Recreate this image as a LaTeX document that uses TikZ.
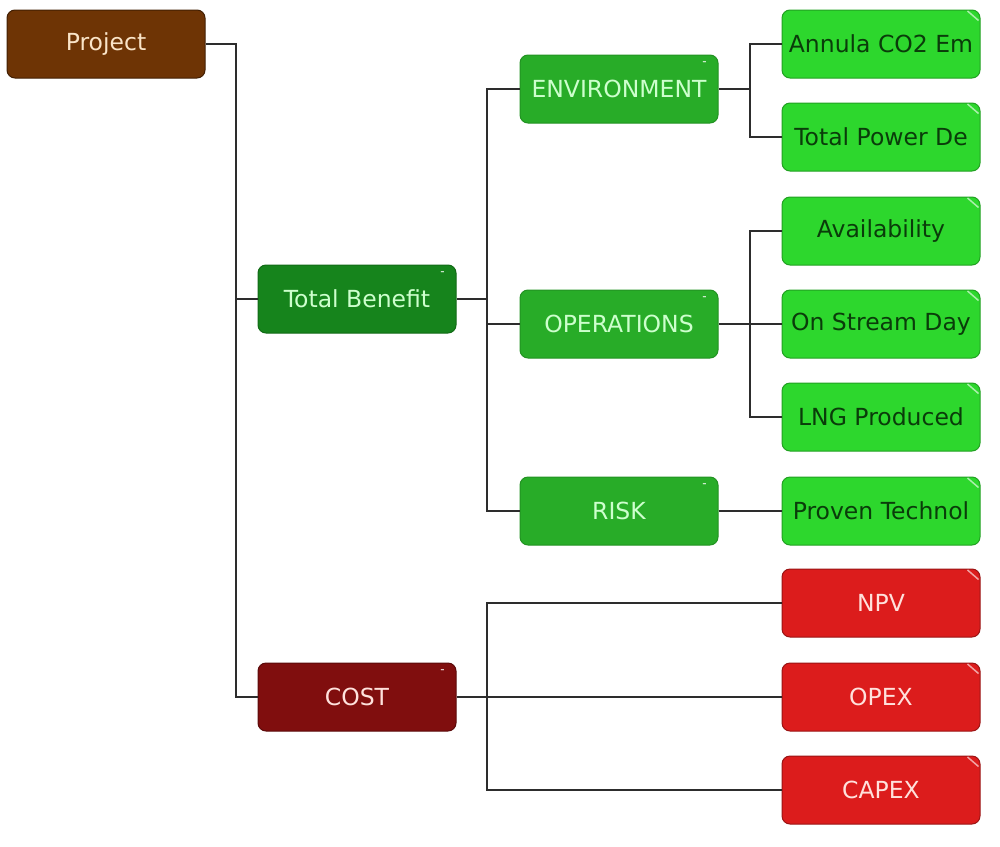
\documentclass[tikz,border=0pt]{standalone}
\usepackage{fontspec}
\setmainfont{DejaVu Sans}
\begin{document}
\begin{tikzpicture}[x=1pt,y=-1pt,
  box/.style={draw, line width=1pt, rounded corners=8pt, minimum width=198pt, minimum height=68pt, inner sep=0pt, font=\fontsize{23.5}{26}\selectfont},
  root/.style={box, fill=projbrown, draw=projbrown!60!black, text=projtext},
  tb/.style={box, fill=tbgreen, draw=tbgreen!80!black, text=lighttext},
  mid/.style={box, fill=midgreen, draw=midgreen!85!black, text=lighttext},
  leafg/.style={box, fill=leafgreen, draw=leafgreen!75!black, text=darktext},
  costbox/.style={box, fill=costred, draw=costred!70!black, text=costtext},
  leafr/.style={box, fill=leafred, draw=leafred!70!black, text=costtext},
  conn/.style={draw=linegray, line width=1.4pt},
  collapsemark/.style={font=\fontsize{12}{12}\selectfont, text=white, inner sep=0pt}
]
\definecolor{projbrown}{RGB}{110,52,5}
\definecolor{projtext}{RGB}{250,228,200}
\definecolor{tbgreen}{RGB}{22,132,28}
\definecolor{midgreen}{RGB}{40,172,40}
\definecolor{leafgreen}{RGB}{45,215,45}
\definecolor{lighttext}{RGB}{205,255,205}
\definecolor{darktext}{RGB}{10,60,10}
\definecolor{costred}{RGB}{128,14,14}
\definecolor{leafred}{RGB}{220,28,28}
\definecolor{costtext}{RGB}{255,225,220}
\definecolor{linegray}{RGB}{45,45,45}
\useasboundingbox (0,0) rectangle (1000,846);

\node[root] (project) at (106,44) {Project};
\node[tb] (tb) at (357,299) {Total Benefit};
\node[costbox] (cost) at (357,697) {COST};
\node[mid] (env) at (619,89) {ENVIRONMENT};
\node[mid] (ops) at (619,324) {OPERATIONS};
\node[mid] (risk) at (619,511) {RISK};
\node[leafg] (co2) at (881,44) {Annula CO2 Em};
\node[leafg] (pow) at (881,137) {Total Power De};
\node[leafg] (avail) at (881,231) {Availability};
\node[leafg] (stream) at (881,324) {On Stream Day};
\node[leafg] (lng) at (881,417) {LNG Produced};
\node[leafg] (proven) at (881,511) {Proven Technol};
\node[leafr] (npv) at (881,603) {NPV};
\node[leafr] (opex) at (881,697) {OPEX};
\node[leafr] (capex) at (881,790) {CAPEX};

% collapse marks
\foreach \n in {tb,cost,env,ops,risk}{
  \node[collapsemark] at ([xshift=-14pt,yshift=-9pt]\n.north east) {-};
}
% corner marks on leaves
\foreach \n in {co2,pow,avail,stream,lng,proven,npv,opex,capex}{
  \draw[white, opacity=0.6, line width=1.5pt] ([xshift=-13pt,yshift=-1.5pt]\n.north east) -- ([xshift=-2pt,yshift=-11pt]\n.north east);
}

% connectors
\path[conn] (project.east) -| (236,299) -- (tb.west);
\path[conn] (236,299) |- (cost.west);
\path[conn] (tb.east) -- (487,299);
\path[conn] (487,299) |- (env.west);
\path[conn] (487,299) |- (ops.west);
\path[conn] (487,299) |- (risk.west);
\path[conn] (env.east) -- (750,89);
\path[conn] (750,89) |- (co2.west);
\path[conn] (750,89) |- (pow.west);
\path[conn] (ops.east) -- (750,324) -- (stream.west);
\path[conn] (750,324) |- (avail.west);
\path[conn] (750,324) |- (lng.west);
\path[conn] (risk.east) -- (proven.west);
\path[conn] (cost.east) -- (487,697) -- (opex.west);
\path[conn] (487,697) |- (npv.west);
\path[conn] (487,697) |- (capex.west);
\end{tikzpicture}
\end{document}
